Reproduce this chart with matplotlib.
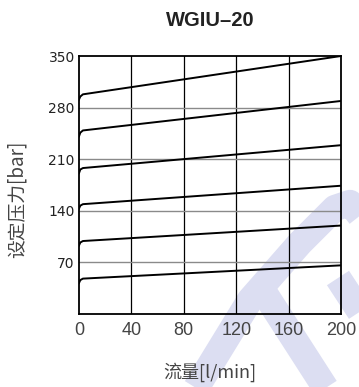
#WGIU-20 pressure vs flow chart
import numpy as np
import matplotlib
matplotlib.use("Agg")
import matplotlib.pyplot as plt
from matplotlib.lines import Line2D

plt.rcParams['font.family'] = ['Noto Sans CJK SC', 'DejaVu Sans']

# DATA
flow = [0, 1, 3, 200]
curves = [
    [291, 295, 298, 350],
    [241, 246, 249, 289],
    [191, 196, 198, 229],
    [143, 147, 149, 174],
    [93, 97, 99, 120],
    [42, 46, 48, 66],
]
x_ticks = [0, 40, 80, 120, 160, 200]
y_ticks = [70, 140, 210, 280, 350]
title = "WGIU–20"
x_label = "流量[l/min]"
y_label = "设定压力[bar]"

W, H = 359, 387
fig = plt.figure(figsize=(W / 100, H / 100), dpi=100)

# faint logo watermark (pixel coords -> figure coords)
def px(x, y):
    return x / W, 1 - y / H

wm = "#dcdef2"
for pts in [[(190, 398), (250, 300), (300, 243), (335, 208), (350, 203), (365, 222)],
            [(258, 283), (332, 398)],
            [(338, 278), (372, 330)]]:
    xs = [px(*p)[0] for p in pts]
    ys = [px(*p)[1] for p in pts]
    fig.add_artist(Line2D(xs, ys, color=wm, lw=19, solid_capstyle="butt",
                          solid_joinstyle="round", zorder=0))

ax = fig.add_axes([79 / W, 1 - 314 / H, (341 - 79) / W, (314 - 56) / H])
ax.patch.set_alpha(0)

for v in x_ticks[1:-1]:
    ax.axvline(v, color="black", lw=0.9, zorder=1)
for v in y_ticks[:-1]:
    ax.axhline(v, color="#8a8a8a", lw=1.0, zorder=1)

for c in curves:
    ax.plot(flow, c, color="black", lw=1.4, zorder=3)

ax.set_xlim(0, 200)
ax.set_ylim(0, 350)
ax.set_xticks(x_ticks)
ax.set_yticks(y_ticks)
ax.set_xticklabels([str(v) for v in x_ticks], fontsize=13, color="#444444",
                   family=['Liberation Sans', 'DejaVu Sans'])
ax.set_yticklabels([str(v) for v in y_ticks], fontsize=10, color="#222222",
                   family=['Liberation Sans Narrow', 'DejaVu Sans'])
ax.tick_params(axis="x", length=0, pad=6)
ax.tick_params(axis="y", length=0, pad=3)
for s in ax.spines.values():
    s.set_color("black")
    s.set_linewidth(1.3)

fig.text(210 / W, 1 - 20 / H, title, ha="center", va="center", fontsize=14.5,
         fontweight="bold", color="#222222", family=['Liberation Sans', 'DejaVu Sans'])
fig.text(210 / W, 1 - 372 / H, x_label, ha="center", va="center",
         fontsize=13, color="#444444")
fig.text(17 / W, 1 - 199 / H, y_label, ha="center", va="center",
         fontsize=13.5, color="#444444", rotation=90)

plt.savefig("out.png", dpi=100)
